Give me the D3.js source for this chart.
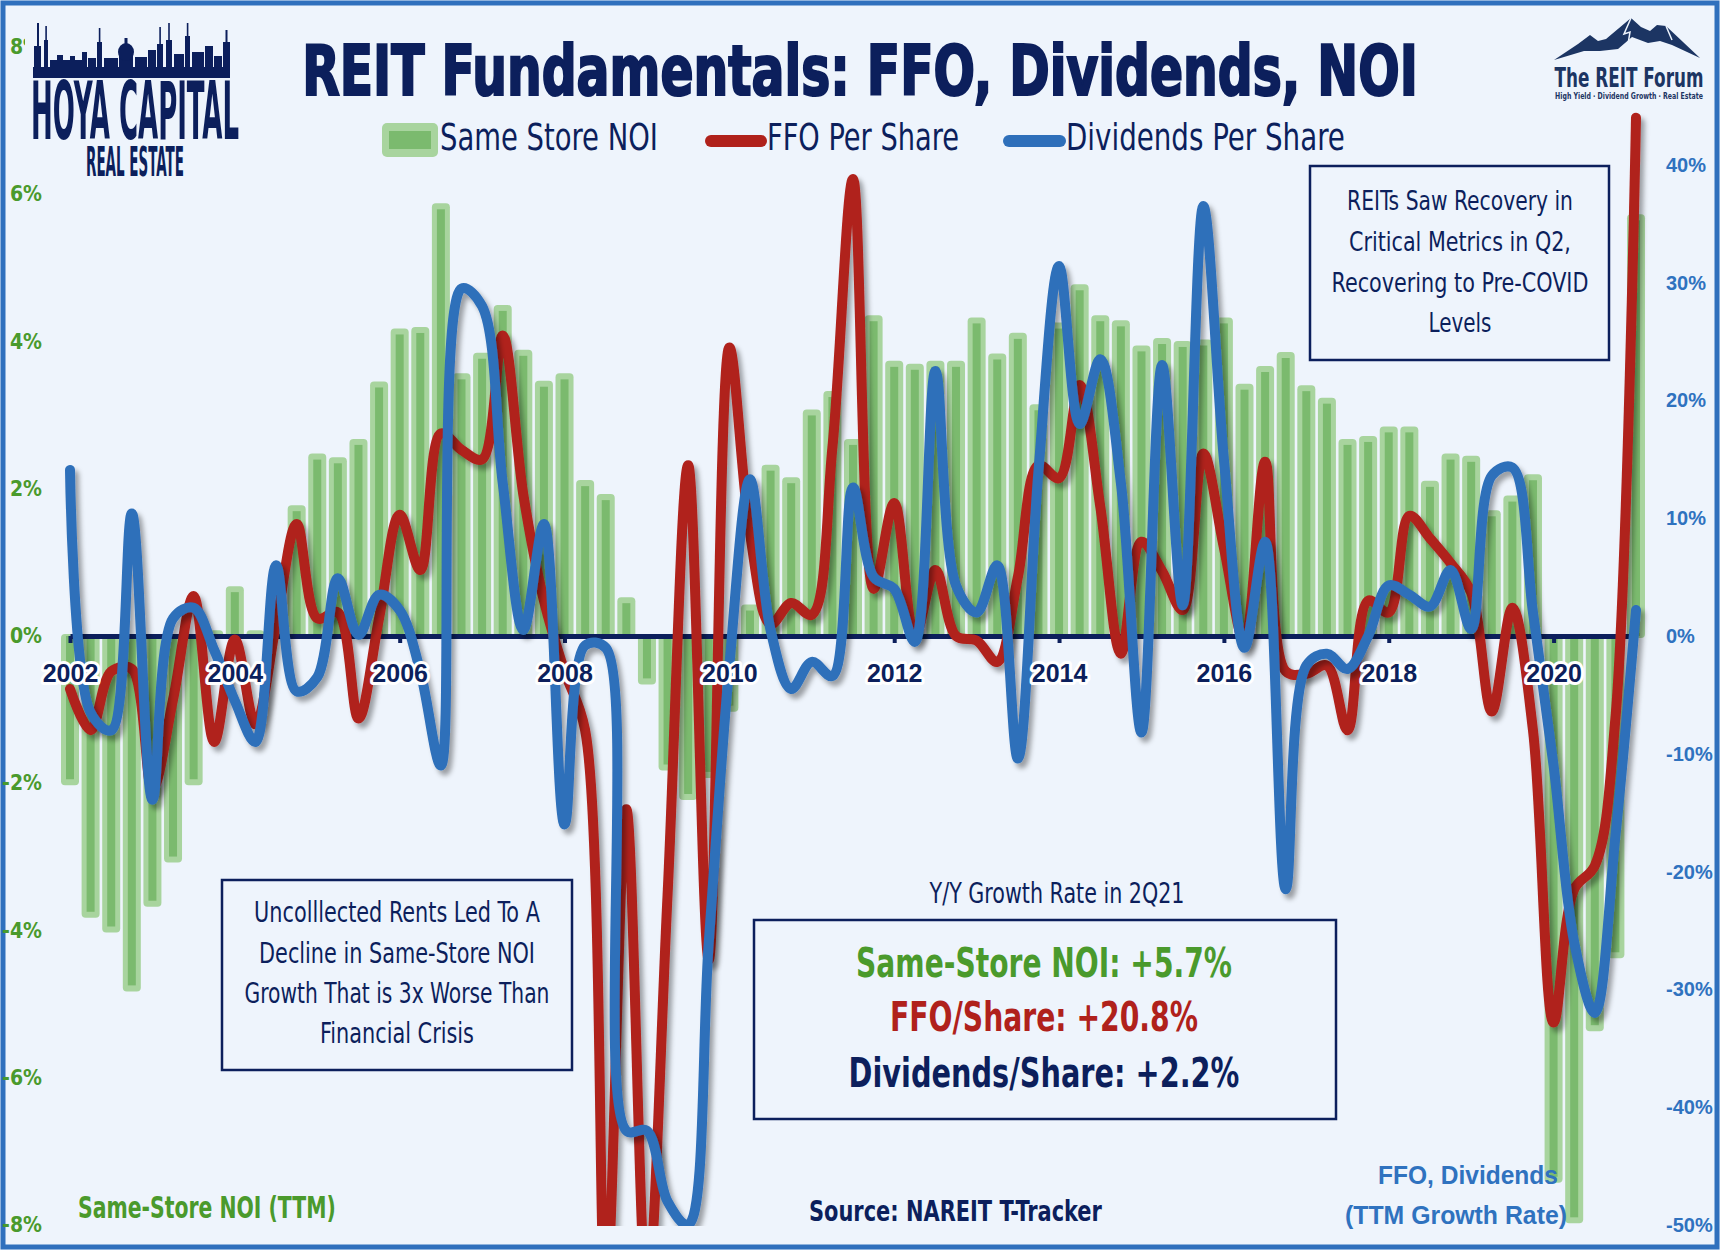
<!DOCTYPE html>
<html>
<head>
<meta charset="utf-8">
<script src="https://cdn.jsdelivr.net/npm/d3@7"></script>
<style>
  html, body { margin: 0; padding: 0; background: #eef4fc; }
  svg { display: block; }
</style>
</head>
<body>
<script>
const w = 1720
const h = 1250

// quarters as plotted (first point sits on the 2002 tick)
const quarters = [
  '2002Q1', '2002Q2', '2002Q3', '2002Q4', '2003Q1', '2003Q2', '2003Q3', '2003Q4',
  '2004Q1', '2004Q2', '2004Q3', '2004Q4', '2005Q1', '2005Q2', '2005Q3', '2005Q4',
  '2006Q1', '2006Q2', '2006Q3', '2006Q4', '2007Q1', '2007Q2', '2007Q3', '2007Q4',
  '2008Q1', '2008Q2', '2008Q3', '2008Q4', '2009Q1', '2009Q2', '2009Q3', '2009Q4',
  '2010Q1', '2010Q2', '2010Q3', '2010Q4', '2011Q1', '2011Q2', '2011Q3', '2011Q4',
  '2012Q1', '2012Q2', '2012Q3', '2012Q4', '2013Q1', '2013Q2', '2013Q3', '2013Q4',
  '2014Q1', '2014Q2', '2014Q3', '2014Q4', '2015Q1', '2015Q2', '2015Q3', '2015Q4',
  '2016Q1', '2016Q2', '2016Q3', '2016Q4', '2017Q1', '2017Q2', '2017Q3', '2017Q4',
  '2018Q1', '2018Q2', '2018Q3', '2018Q4', '2019Q1', '2019Q2', '2019Q3', '2019Q4',
  '2020Q1', '2020Q2', '2020Q3', '2020Q4', '2021Q1'
]

// same store NOI growth, TTM (left axis, %)
const noiGrowth = [
  -2.0, -3.8, -4.0, -4.8, -3.65, -3.05, -2.0, 0.05,
  0.65, 0.05, 0.1, 1.75, 2.45, 2.4, 2.65, 3.43,
  4.15, 4.17, 5.85, 3.54, 3.82, 4.47, 3.86, 3.44,
  3.54, 2.09, 1.9, 0.5, -0.63, -1.8, -2.2, -1.9,
  -1.0, 0.4, 2.3, 2.13, 3.05, 3.3, 2.65, 4.33,
  3.71, 3.67, 3.71, 3.71, 4.3, 3.81, 4.09, 3.12,
  4.23, 4.75, 4.33, 4.26, 3.92, 4.02, 3.98, 4.0,
  4.3, 3.4, 3.64, 3.83, 3.38, 3.21, 2.65, 2.69,
  2.82, 2.82, 2.08, 2.45, 2.42, 1.68, 1.88, 2.17,
  -7.4, -7.95, -5.34, -4.35, 5.7
]

// FFO per share growth, TTM (right axis, %)
const ffoGrowth = [
  -4.5, -8.0, -3.0, -2.8, -13.0, -5.4, 3.4, -9.0,
  -0.3, -7.5, 1.0, 9.5, 1.5, 2.0, -7.0, 1.5,
  10.3, 5.6, 17.2, 15.8, 15.0, 25.5, 12.0, 3.0,
  -3.0, -8.0, -56, -14.7, -56, -22, 14.5, -27.5,
  24.5, 8.7, 1.0, 2.8, 1.8, 16.0, 38.8, 4.0,
  11.3, 0.0, 5.6, 0.0, -0.4, -2.2, 5.0, 14.5,
  13.4, 21.3, 11.0, -1.5, 8.0, 5.5, 2.2, 15.5,
  7.5, -0.5, 14.8, -3.0, -3.2, -2.5, -8.0, 3.0,
  2.0, 10.2, 8.3, 6.2, 3.7, -6.4, 2.4, -8.0,
  -32.8, -21.5, -19.5, -7.0, 44.0
]

// dividends per share growth, TTM (right axis, %)
const divGrowth = [
  14.1, -6.5, -8.0, 10.4, -13.9, 1.5, 2.4, -1.2,
  -5.5, -9.0, 6.0, -4.7, -3.5, 4.9, 0.1, 3.5,
  2.2, -3.0, -11.0, 29.5, 28.0, 13.0, 0.5, 9.5,
  -16.0, -0.8, -1.0, -42.0, -42.0, -48.0, -50.0, -26.0,
  -2.5, 13.3, 0.5, -4.5, -2.2, -3.4, 12.6, 5.0,
  4.0, -0.5, 22.5, 4.3, 2.0, 6.0, -10.4, 14.0,
  31.4, 18.0, 23.5, 13.0, -8.2, 23.0, 2.6, 36.5,
  15.0, -1.0, 8.0, -21.5, -2.5, -1.5, -2.8, 0.0,
  4.3, 3.5, 2.5, 5.6, 0.6, 13.6, 14.3, 2.0,
  -11.0, -26.0, -32.0, -17.0, 2.2
]

const yearTicks = [2002, 2004, 2006, 2008, 2010, 2012, 2014, 2016, 2018, 2020]
const noiTicks = [-8, -6, -4, -2, 0, 2, 4, 6, 8]
// the 50% label is hidden behind the logo in the original
const growthTicks = [-50, -40, -30, -20, -10, 0, 10, 20, 30, 40]

// colours
const navy = '#0c1f5c'
const redC = '#b0211b'
const blueC = '#2e6fba'
const greenTxt = '#4a9a2c'
const barLight = '#a8d49e'
const barDark = '#7bba6e'
const bg = '#eef4fc'
const forumBlue = '#1c3563'

const narrow = "'Liberation Sans Narrow', 'DejaVu Sans Condensed', sans-serif"
const sans = "'Liberation Sans', Arial, sans-serif"

// quarter string -> decimal year
const qTime = q => +q.slice(0, 4) + (+q.slice(5) - 1) / 4

const x = d3.scaleLinear().domain([2002, 2021]).range([70, 1636])
const yL = d3.scaleLinear().domain([-8, 8]).range([1225, 47])
const yR = d3.scaleLinear().domain([-50, 50]).range([1225, 47])

const svg = d3.select('body').append('svg')
  .attr('width', w)
  .attr('height', h)
  .attr('viewBox', `0 0 ${w} ${h}`)

// drop shadow for the lines
const defs = svg.append('defs')
defs.append('filter').attr('id', 'shadow')
  .attr('x', '-5%').attr('y', '-5%').attr('width', '110%').attr('height', '110%')
  .append('feDropShadow')
  .attr('dx', 4).attr('dy', 5).attr('stdDeviation', 2.5)
  .attr('flood-color', '#000').attr('flood-opacity', 0.35)
defs.append('clipPath').attr('id', 'plot')
  .append('rect').attr('x', 40).attr('y', 20).attr('width', 1630).attr('height', 1206)

// background + frame
svg.append('rect').attr('width', w).attr('height', h).attr('fill', bg)
svg.append('rect')
  .attr('x', 3).attr('y', 3).attr('width', w - 6).attr('height', h - 6)
  .attr('fill', 'none').attr('stroke', '#2f70bd').attr('stroke-width', 5)

// helper for text, squeezed to a given width when o.len is set
const txt = (g, s, o) => {
  const t = g.append('text').text(s)
    .attr('font-family', o.font || narrow)
    .attr('font-size', o.size)
    .attr('font-weight', o.bold ? 'bold' : 'normal')
    .attr('fill', o.fill || navy)
    .attr('text-anchor', o.anchor || 'start')
  if (o.len) {
    const nat = t.node().getComputedTextLength()
    t.attr('transform', `translate(${o.x},${o.y}) scale(${o.len / nat},1)`)
  } else {
    t.attr('x', o.x).attr('y', o.y)
  }
  return t
}

// bars
const barData = quarters.map((q, i) => ({ t: qTime(q), v: noiGrowth[i] }))
const bars = svg.append('g')
bars.selectAll('rect.outer')
  .data(barData)
  .enter()
  .append('rect')
  .attr('class', 'outer')
  .attr('x', d => x(d.t) - 9)
  .attr('width', 18)
  .attr('y', d => Math.min(yL(0), yL(d.v)) - 2)
  .attr('height', d => Math.abs(yL(d.v) - yL(0)) + 4)
  .attr('rx', 4)
  .attr('fill', barLight)
bars.selectAll('rect.inner')
  .data(barData.filter(d => Math.abs(yL(d.v) - yL(0)) > 6))
  .enter()
  .append('rect')
  .attr('class', 'inner')
  .attr('x', d => x(d.t) - 4)
  .attr('width', 8)
  .attr('y', d => d.v > 0 ? yL(d.v) + 4 : yL(0))
  .attr('height', d => Math.abs(yL(d.v) - yL(0)) - 4)
  .attr('fill', barDark)

// zero axis line + ticks
const xAxis = svg.append('g')
  .attr('transform', `translate(0,${yL(0)})`)
  .call(d3.axisBottom(x).tickValues(yearTicks).tickSize(7).tickSizeOuter(0).tickFormat(''))
xAxis.select('.domain').attr('stroke', navy).attr('stroke-width', 5)
xAxis.selectAll('.tick line').attr('stroke', navy).attr('stroke-width', 4)

// lines
const line = d3.line()
  .x(d => x(d.t))
  .y(d => yR(d.v))
  .curve(d3.curveCatmullRom.alpha(0.5))

const lines = svg.append('g').attr('clip-path', 'url(#plot)')
const series = [
  { name: 'ffo', values: ffoGrowth, color: redC },
  { name: 'div', values: divGrowth, color: blueC }
]
series.forEach(s => {
  lines.append('path')
    .datum(quarters.map((q, i) => ({ t: qTime(q), v: s.values[i] })))
    .attr('d', line)
    .attr('fill', 'none')
    .attr('stroke', s.color)
    .attr('stroke-width', 10)
    .attr('stroke-linecap', 'round')
    .attr('stroke-linejoin', 'round')
    .attr('filter', 'url(#shadow)')
})

// year labels on top of the lines
const yearLabels = svg.append('g')
  .attr('transform', `translate(0,${yL(0)})`)
  .call(d3.axisBottom(x).tickValues(yearTicks).tickSize(0).tickPadding(28).tickFormat(d3.format('d')))
yearLabels.select('.domain').remove()
yearLabels.selectAll('text')
  .attr('font-family', sans)
  .attr('font-size', 25)
  .attr('font-weight', 'bold')
  .attr('fill', navy)
  .attr('stroke', '#fff')
  .attr('stroke-width', 6)
  .attr('stroke-linejoin', 'round')
  .attr('paint-order', 'stroke')

// left axis
const leftAxis = svg.append('g')
  .attr('transform', 'translate(42,0)')
  .call(d3.axisLeft(yL).tickValues(noiTicks).tickSize(0).tickPadding(0).tickFormat(d => d + '%'))
leftAxis.select('.domain').remove()
leftAxis.selectAll('text')
  .attr('font-family', narrow)
  .attr('font-size', 21)
  .attr('font-weight', 'bold')
  .attr('fill', greenTxt)

// right axis
const rightAxis = svg.append('g')
  .attr('transform', 'translate(1666,0)')
  .call(d3.axisRight(yR).tickValues(growthTicks).tickSize(0).tickPadding(0).tickFormat(d => d + '%'))
rightAxis.select('.domain').remove()
rightAxis.selectAll('text')
  .attr('font-family', sans)
  .attr('font-size', 20)
  .attr('font-weight', 'bold')
  .attr('fill', '#2f72bf')

// title
txt(svg, 'REIT Fundamentals: FFO, Dividends, NOI', { x: 860, y: 95, size: 70, bold: true, anchor: 'middle', len: 1116 })
  .attr('stroke', navy).attr('stroke-width', 2.2)

// legend
const legend = svg.append('g')
legend.append('rect').attr('x', 382).attr('y', 123).attr('width', 56).attr('height', 34).attr('rx', 5).attr('fill', barLight)
legend.append('rect').attr('x', 389).attr('y', 131).attr('width', 42).attr('height', 18).attr('fill', barDark)
txt(legend, 'Same Store NOI', { x: 440, y: 150, size: 38, len: 218 })
legend.append('line').attr('x1', 711).attr('x2', 761).attr('y1', 141).attr('y2', 141)
  .attr('stroke', redC).attr('stroke-width', 12).attr('stroke-linecap', 'round')
txt(legend, 'FFO Per Share', { x: 767, y: 150, size: 38, len: 192 })
legend.append('line').attr('x1', 1009).attr('x2', 1060).attr('y1', 141).attr('y2', 141)
  .attr('stroke', blueC).attr('stroke-width', 12).attr('stroke-linecap', 'round')
txt(legend, 'Dividends Per Share', { x: 1066, y: 150, size: 38, len: 279 })

// note boxes
const notes = svg.append('g')
notes.append('rect').attr('x', 1310).attr('y', 166).attr('width', 299).attr('height', 194)
  .attr('fill', 'none').attr('stroke', navy).attr('stroke-width', 2.5)
const rightNote = [
  ['REITs Saw Recovery in', 210, 226],
  ['Critical Metrics in Q2,', 251, 222],
  ['Recovering to Pre-COVID', 292, 257],
  ['Levels', 332, 63]
]
rightNote.forEach(d => txt(notes, d[0], { x: 1460, y: d[1], size: 27, anchor: 'middle', len: d[2] }))

notes.append('rect').attr('x', 222).attr('y', 880).attr('width', 350).attr('height', 190)
  .attr('fill', 'none').attr('stroke', navy).attr('stroke-width', 2.5)
const leftNote = [
  ['Uncolllected Rents Led To A', 922, 286],
  ['Decline in Same-Store NOI', 963, 276],
  ['Growth That is 3x Worse Than', 1003, 305],
  ['Financial Crisis', 1043, 154]
]
leftNote.forEach(d => txt(notes, d[0], { x: 397, y: d[1], size: 28, anchor: 'middle', len: d[2] }))

txt(notes, 'Y/Y Growth Rate in 2Q21', { x: 1057, y: 903, size: 28, anchor: 'middle', len: 255 })
notes.append('rect').attr('x', 754).attr('y', 920).attr('width', 582).attr('height', 199)
  .attr('fill', 'none').attr('stroke', navy).attr('stroke-width', 2.5)
txt(notes, 'Same-Store NOI: +5.7%', { x: 1044, y: 977, size: 40, bold: true, anchor: 'middle', len: 376, fill: greenTxt })
txt(notes, 'FFO/Share: +20.8%', { x: 1044, y: 1031, size: 40, bold: true, anchor: 'middle', len: 308, fill: redC })
txt(notes, 'Dividends/Share: +2.2%', { x: 1044, y: 1087, size: 40, bold: true, anchor: 'middle', len: 391 })

// footers
txt(svg, 'Same-Store NOI (TTM)', { x: 78, y: 1218, size: 30, bold: true, len: 258, fill: greenTxt })
txt(svg, 'Source: NAREIT T-Tracker', { x: 809, y: 1221, size: 28, bold: true, len: 293 })
txt(svg, 'FFO, Dividends', { x: 1468, y: 1184, size: 25, bold: true, font: sans, anchor: 'middle', len: 180, fill: '#2f72bf' })
txt(svg, '(TTM Growth Rate)', { x: 1456, y: 1224, size: 25, bold: true, font: sans, anchor: 'middle', len: 222, fill: '#2f72bf' })

// Hoya Capital logo
const logo = svg.append('g')
logo.append('rect').attr('x', 25).attr('y', 18).attr('width', 218).attr('height', 160).attr('fill', bg)
const sky = [
  [34, 7, 46], [37, 2, 23], [44, 4, 40], [45.3, 1.6, 26], [50, 32, 60], [57, 6, 55], [70, 5, 56],
  [82, 5, 52], [88, 8, 58], [97, 5, 42], [98.8, 1.6, 28], [104, 14, 58], [119, 14, 52],
  [135, 12, 57], [148, 8, 50], [157, 6, 44], [159.3, 1.6, 27], [166, 6, 40], [168.2, 1.6, 23],
  [174, 10, 54], [185, 5, 36], [186.8, 1.6, 23], [192, 12, 52], [205, 8, 46], [214, 8, 56],
  [223, 7, 42], [225.5, 2, 30]
]
logo.selectAll('rect.bld')
  .data(sky)
  .enter()
  .append('rect')
  .attr('class', 'bld')
  .attr('x', d => d[0]).attr('y', d => d[2])
  .attr('width', d => d[1]).attr('height', d => 70 - d[2])
  .attr('fill', navy)
logo.append('ellipse').attr('cx', 126).attr('cy', 52).attr('rx', 8).attr('ry', 9).attr('fill', navy)
logo.append('rect').attr('x', 124.5).attr('y', 38).attr('width', 3).attr('height', 8).attr('fill', navy)
logo.append('rect').attr('x', 33).attr('y', 67).attr('width', 197).attr('height', 11).attr('fill', navy)
txt(logo, 'HOYA CAPITAL', { x: 135, y: 139, size: 80, bold: true, anchor: 'middle', len: 208 })
txt(logo, 'REAL ESTATE', { x: 135, y: 176, size: 40, bold: true, anchor: 'middle', len: 98 })

// The REIT Forum logo
const forum = svg.append('g')
forum.append('rect').attr('x', 1548).attr('y', 12).attr('width', 166).attr('height', 92).attr('fill', bg)
forum.append('path')
  .attr('d', 'M1554,60 L1578,44 L1590,35 L1598,41 L1606,39 L1631,18 L1641,27 L1650,31 L1657,25 L1666,26 L1700,58 L1672,45 L1660,41 L1648,43 L1632,37 L1618,49 L1600,51 L1584,51 Z')
  .attr('fill', forumBlue)
forum.append('path')
  .attr('d', 'M1631,18 L1624,34 L1630,32 L1628,44 M1666,26 L1672,40')
  .attr('fill', 'none').attr('stroke', bg).attr('stroke-width', 1.5)
txt(forum, 'The REIT Forum', { x: 1629, y: 87, size: 26, bold: true, anchor: 'middle', len: 149, fill: forumBlue })
txt(forum, 'High Yield · Dividend Growth · Real Estate', { x: 1629, y: 99, size: 9, bold: true, anchor: 'middle', len: 148, fill: forumBlue })
</script>
</body>
</html>
